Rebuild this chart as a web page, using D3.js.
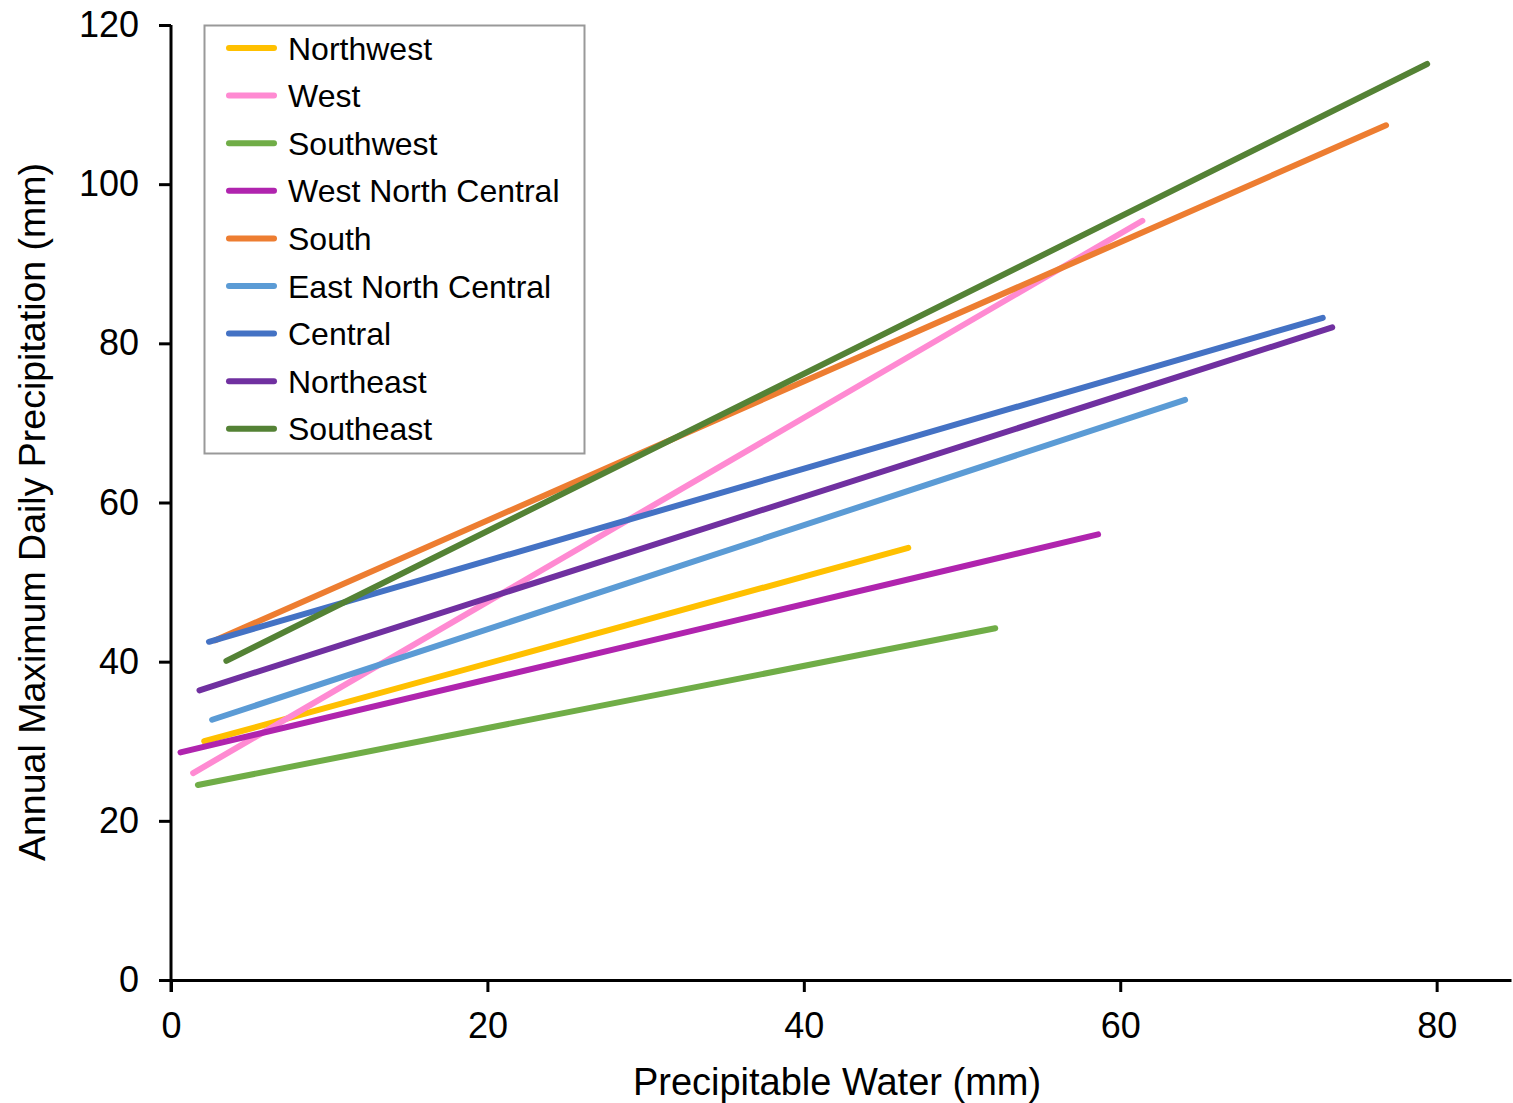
<!DOCTYPE html>
<html>
<head>
<meta charset="utf-8">
<script src="https://cdn.jsdelivr.net/npm/d3@7"></script>
<style>
  body { margin: 0; background: #fff; }
  text { font-family: "Liberation Sans", Arial, sans-serif; fill: #000; }
</style>
</head>
<body>
<div id="chart"></div>
<script>
'use strict';

// regions, in legend order
var regions = ['Northwest', 'West', 'Southwest', 'West North Central', 'South',
  'East North Central', 'Central', 'Northeast', 'Southeast'];
var colors = ['#FFC000', '#FF8AD2', '#70AD47', '#B024AE', '#ED7D31',
  '#5B9BD5', '#4472C4', '#7030A0', '#548235'];

// each fit line: [x start, y start, x end, y end] (mm)
var startX = [2.1, 1.4, 1.7, 0.6, 2.8, 2.6, 2.4, 1.8, 3.5];
var startY = [30.0, 26.0, 24.5, 28.6, 42.7, 32.7, 42.5, 36.4, 40.1];
var endX = [46.6, 61.4, 52.1, 58.6, 76.8, 64.1, 72.8, 73.4, 79.4];
var endY = [54.3, 95.4, 44.2, 56.0, 107.4, 72.9, 83.2, 82.0, 115.1];

var xTicks = [0, 20, 40, 60, 80];
var yTicks = [0, 20, 40, 60, 80, 100, 120];

var width = 1513, height = 1103;
var margin = {left: 171, right: 2, top: 25, bottom: 123};

var svg = d3.select('#chart')
  .append('svg')
    .attr('width', width)
    .attr('height', height);

var x = d3.scaleLinear()
  .domain([0, 84.7])
  .range([margin.left, width - margin.right]);

var y = d3.scaleLinear()
  .domain([0, 120])
  .range([height - margin.bottom, margin.top]);

// axes
var xAxis = svg.append('g')
  .attr('transform', 'translate(0,' + y(0) + ')')
  .call(d3.axisBottom(x).tickValues(xTicks).tickSize(12).tickSizeOuter(0).tickPadding(20));

var yAxis = svg.append('g')
  .attr('transform', 'translate(' + x(0) + ',0)')
  .call(d3.axisLeft(y).tickValues(yTicks).tickSize(12).tickSizeOuter(0).tickPadding(20));

[xAxis, yAxis].forEach(function(ax){
  ax.select('.domain').attr('stroke', '#000').attr('stroke-width', 3);
  ax.selectAll('.tick line').attr('stroke', '#000').attr('stroke-width', 3);
  ax.selectAll('.tick text')
    .style('font-family', '"Liberation Sans", Arial, sans-serif')
    .style('font-size', '36px')
    .attr('fill', '#000');
});

// the y axis runs below the x axis by one tick length, like the original
yAxis.select('.domain').attr('d', 'M0,' + y(120) + 'V' + (y(0) + 12));

// axis titles
svg.append('text')
  .attr('x', 837)
  .attr('y', 1095)
  .attr('text-anchor', 'middle')
  .style('font-size', '38px')
  .text('Precipitable Water (mm)');

svg.append('text')
  .attr('transform', 'translate(45,' + 512 + ') rotate(-90)')
  .attr('text-anchor', 'middle')
  .style('font-size', '37.5px')
  .text('Annual Maximum Daily Precipitation (mm)');

// fit lines
var lines = regions.map(function(r, i){
  return {name: r, color: colors[i], pts: [[startX[i], startY[i]], [endX[i], endY[i]]]};
});

var line = d3.line()
  .x(function(d){ return x(d[0]); })
  .y(function(d){ return y(d[1]); });

svg.append('g').selectAll('path')
  .data(lines)
  .enter().append('path')
    .attr('d', function(d){ return line(d.pts); })
    .attr('fill', 'none')
    .attr('stroke', function(d){ return d.color; })
    .attr('stroke-width', 6)
    .attr('stroke-linecap', 'round');

// legend
var legend = svg.append('g');
legend.append('rect')
  .attr('x', 204.5)
  .attr('y', 25.5)
  .attr('width', 380)
  .attr('height', 428)
  .attr('fill', '#fff')
  .attr('stroke', '#999')
  .attr('stroke-width', 2);

var item = legend.selectAll('g.item')
  .data(lines)
  .enter().append('g')
    .attr('class', 'item')
    .attr('transform', function(d, i){ return 'translate(0,' + (48 + i * 47.6) + ')'; });

item.append('line')
  .attr('x1', 229).attr('x2', 274)
  .attr('stroke', function(d){ return d.color; })
  .attr('stroke-width', 6)
  .attr('stroke-linecap', 'round');

item.append('text')
  .attr('x', 288)
  .attr('dy', '0.36em')
  .style('font-size', '32px')
  .text(function(d){ return d.name; });
</script>
</body>
</html>
